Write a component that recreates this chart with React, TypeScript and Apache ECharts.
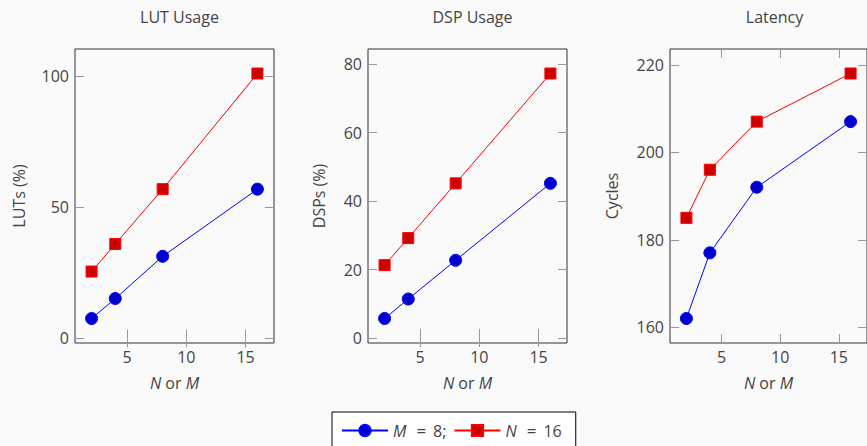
import React, { useEffect, useRef } from "react";
import * as echarts from "echarts";

const xValues = [2, 4, 8, 16];
const xTicks = [5, 10, 15];

const titles = ["LUT Usage", "DSP Usage", "Latency"];
const yNames = ["LUTs (%)", "DSPs (%)", "Cycles"];

const lutM8 = [7.6, 15.2, 31.3, 56.9];
const lutN16 = [25.5, 36.0, 56.9, 101.0];
const dspM8 = [5.7, 11.4, 22.7, 45.2];
const dspN16 = [21.3, 29.2, 45.2, 77.3];
const latM8 = [162, 177, 192, 207];
const latN16 = [185, 196, 207, 218];

const lutTicks = [0, 50, 100];
const dspTicks = [0, 20, 40, 60, 80];
const latTicks = [160, 180, 200, 220];

const seriesNames = ["M = 8;", "N = 16"];

const FONT = "'Open Sans', 'Noto Sans', sans-serif";
const TEXT = "#444";
const TICK = "#999";

export default function App() {
  const ref = useRef<HTMLDivElement>(null);
  useEffect(() => {
    document.body.style.margin = "0";
    const chart = echarts.init(ref.current!, null, { renderer: "svg" });

    const plots = [
      { m: lutM8, n: lutN16, ticks: lutTicks, left: 75, gap: 48 },
      { m: dspM8, n: dspN16, ticks: dspTicks, left: 368, gap: 41 },
      { m: latM8, n: latN16, ticks: latTicks, left: 670, gap: 50 },
    ];
    const W = 199;
    const H = 294;
    const TOP = 49;

    const xRange = (() => {
      const lo = Math.min(...xValues), hi = Math.max(...xValues);
      const e = (hi - lo) * 0.1;
      return [lo - e, hi + e];
    })();

    const grids: any[] = [];
    const xAxes: any[] = [];
    const yAxes: any[] = [];
    const series: any[] = [];
    const titleArr: any[] = [];

    const tickCfg = (vals: number[]) => ({
      show: true,
      inside: true,
      length: 9,
      customValues: vals,
      lineStyle: { color: TICK, width: 1 },
    });

    plots.forEach((p, i) => {
      const all = [...p.m, ...p.n];
      const lo = Math.min(...all), hi = Math.max(...all);
      const e = (hi - lo) * 0.1;
      const yMin = lo - e, yMax = hi + e;
      grids.push({
        left: p.left,
        top: TOP,
        width: W,
        height: H,
        show: true,
        borderColor: "#333",
        borderWidth: 1,
        backgroundColor: "transparent",
      });
      titleArr.push({
        text: titles[i],
        left: p.left + W / 2,
        top: 4,
        textAlign: "center",
        textStyle: { fontFamily: FONT, fontSize: 16, fontWeight: "normal", color: TEXT },
      });
      xAxes.push({
        type: "value",
        gridIndex: i,
        min: xRange[0],
        max: xRange[1],
        position: "bottom",
        axisLine: { show: false },
        splitLine: { show: false },
        axisTick: tickCfg(xTicks),
        axisLabel: {
          customValues: xTicks,
          margin: 6,
          color: TEXT,
          fontFamily: FONT,
          fontSize: 16,
        },
        name: "{i|N} or {i|M}",
        nameLocation: "middle",
        nameGap: 32,
        nameTextStyle: {
          color: TEXT,
          fontFamily: FONT,
          fontSize: 16,
          rich: { i: { fontStyle: "italic", color: TEXT, fontFamily: FONT, fontSize: 16 } },
        },
      });
      xAxes.push({
        type: "value",
        gridIndex: i,
        min: xRange[0],
        max: xRange[1],
        position: "top",
        axisLine: { show: false },
        splitLine: { show: false },
        axisTick: tickCfg(xTicks),
        axisLabel: { show: false },
      });
      yAxes.push({
        type: "value",
        gridIndex: i,
        min: yMin,
        max: yMax,
        position: "left",
        axisLine: { show: false },
        splitLine: { show: false },
        axisTick: tickCfg(p.ticks),
        axisLabel: {
          customValues: p.ticks,
          margin: 6,
          color: TEXT,
          fontFamily: FONT,
          fontSize: 16,
        },
        name: yNames[i],
        nameLocation: "middle",
        nameGap: p.gap,
        nameTextStyle: { color: TEXT, fontFamily: FONT, fontSize: 16 },
      });
      yAxes.push({
        type: "value",
        gridIndex: i,
        min: yMin,
        max: yMax,
        position: "right",
        axisLine: { show: false },
        splitLine: { show: false },
        axisTick: tickCfg(p.ticks),
        axisLabel: { show: false },
      });
      series.push({
        name: seriesNames[0],
        type: "line",
        xAxisIndex: i * 2,
        yAxisIndex: i * 2,
        data: xValues.map((x, k) => [x, p.m[k]]),
        symbol: "circle",
        symbolSize: 12,
        itemStyle: { color: "#0000cc", borderColor: "#0000ff", borderWidth: 1 },
        lineStyle: { color: "#0000ff", width: 1 },
      });
      series.push({
        name: seriesNames[1],
        type: "line",
        xAxisIndex: i * 2,
        yAxisIndex: i * 2,
        data: xValues.map((x, k) => [x, p.n[k]]),
        symbol: "rect",
        symbolSize: 11,
        itemStyle: { color: "#cc0000", borderColor: "#ff0000", borderWidth: 1 },
        lineStyle: { color: "#ff0000", width: 1 },
      });
    });

    chart.setOption({
      animation: false,
      backgroundColor: "#fafafa",
      title: titleArr,
      grid: grids,
      xAxis: xAxes,
      yAxis: yAxes,
      series,
      legend: {
        data: seriesNames,
        left: 332,
        top: 412,
        orient: "horizontal",
        padding: [10, 14, 30, 9],
        itemGap: 7,
        itemWidth: 46,
        itemHeight: 14,
        borderColor: "#000",
        borderWidth: 1,
        backgroundColor: "#fff",
        formatter: (name: string) => {
          const parts = name.split(" ");
          return "{i|" + parts[0] + "}{eq|=}" + parts[2];
        },
        textStyle: {
          color: TEXT,
          fontFamily: FONT,
          fontSize: 16,
          padding: [0, 0, 0, 0],
          rich: {
            i: { fontStyle: "italic", color: TEXT, fontFamily: FONT, fontSize: 16 },
            eq: { color: TEXT, fontFamily: FONT, fontSize: 17, padding: [0, 7, 0, 10] },
          },
        },
      },
    });
    return () => chart.dispose();
  }, []);
  return <div ref={ref} style={{ width: 867, height: 446 }} />;
}
